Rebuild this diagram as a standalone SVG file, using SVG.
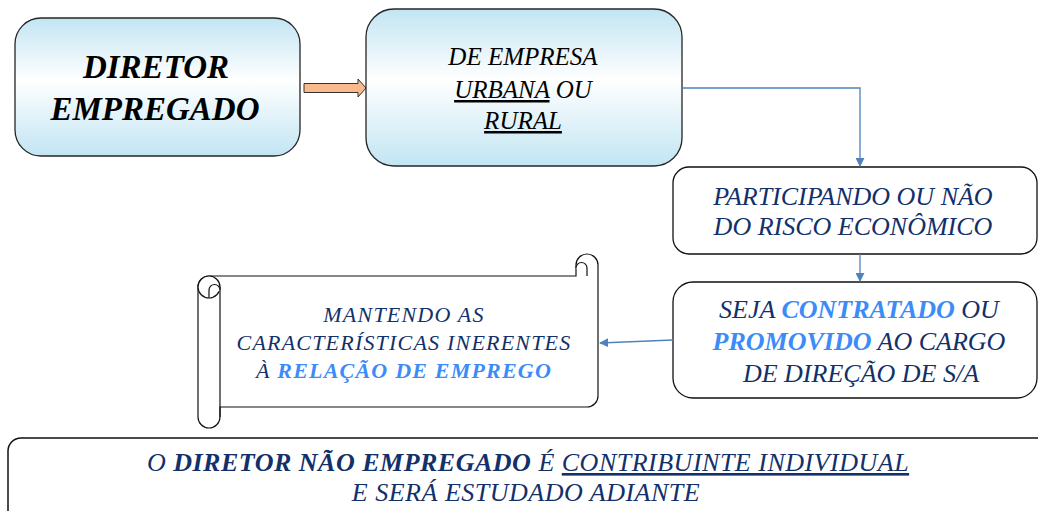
<svg xmlns="http://www.w3.org/2000/svg" width="1038" height="511" viewBox="0 0 1038 511">
  <defs>
    <linearGradient id="blueGrad" x1="0" y1="0" x2="0" y2="1">
      <stop offset="0" stop-color="#c2e5f3"/>
      <stop offset="0.45" stop-color="#ffffff"/>
      <stop offset="1" stop-color="#c2e5f3"/>
    </linearGradient>
    <marker id="arr" viewBox="0 0 10 10" refX="9" refY="5" markerWidth="9" markerHeight="9" markerUnits="userSpaceOnUse" orient="auto">
      <path d="M0,0 L10,5 L0,10 Z" fill="#4f81bd"/>
    </marker>
    <style>
      text { font-family: 'Liberation Serif', 'Times New Roman', Times, 'DejaVu Serif', serif; font-style: italic; text-anchor: middle; }
      .blk { fill: #000000; }
      .navy { fill: #12306a; }
      .hl { fill: #3b8cf6; font-weight: bold; }
      .b { font-weight: bold; }
      .u { text-decoration: underline; }
      .gbox { fill: url(#blueGrad); stroke: #262626; stroke-width: 1.3; }
      .wbox { fill: #ffffff; stroke: #111111; stroke-width: 1.3; }
      .conn { fill: none; stroke: #4f81bd; stroke-width: 1.3; }
      .scroll { fill: #ffffff; stroke: #111111; stroke-width: 1.2; }
    </style>
  </defs>

  <g id="diretor-empregado">
    <rect class="gbox" x="15" y="18" width="285" height="138" rx="26"/>
    <text class="blk b" font-size="33" x="156" y="78">DIRETOR</text>
    <text class="blk b" font-size="33" x="155" y="120">EMPREGADO</text>
  </g>

  <g id="orange-arrow">
    <polygon points="304,83.5 358,83.5 358,79 366,88 358,97 358,92.5 304,92.5" fill="#f9b98a" stroke="#333333" stroke-width="1"/>
  </g>

  <g id="empresa">
    <rect class="gbox" x="366" y="9" width="316" height="157" rx="28"/>
    <text class="blk" font-size="25" x="523" y="65">DE EMPRESA</text>
    <text class="blk" font-size="25" x="523" y="98"><tspan class="u">URBANA</tspan> OU</text>
    <text class="blk" font-size="25" x="523" y="129"><tspan class="u">RURAL</tspan></text>
  </g>

  <g id="risco">
    <rect class="wbox" x="673" y="167" width="364" height="87" rx="16"/>
    <text class="navy" font-size="26" x="853" y="205">PARTICIPANDO OU NÃO</text>
    <text class="navy" font-size="26" x="853" y="235">DO RISCO ECONÔMICO</text>
  </g>

  <g id="contratado">
    <rect class="wbox" x="673" y="282" width="364" height="116" rx="20"/>
    <text class="navy" font-size="26" x="859" y="318">SEJA <tspan class="hl">CONTRATADO</tspan> OU</text>
    <text class="navy" font-size="26" x="859" y="350"><tspan class="hl">PROMOVIDO</tspan> AO CARGO</text>
    <text class="navy" font-size="26" x="861" y="382">DE DIREÇÃO DE S/A</text>
  </g>

  <g id="mantendo">
    <path class="scroll" d="M 220 407 L 587 407 A 11 11 0 0 0 598 396 L 598 265 A 11 11 0 0 0 576 265 L 576 276 L 209 276 A 11 11 0 0 0 198 287 L 198 417 A 11 11 0 0 0 220 417 Z"/>
    <path class="scroll" fill="none" d="M 220 287 L 220 417"/>
    <circle class="scroll" fill="none" cx="209" cy="287" r="11"/>
    <path class="scroll" fill="none" d="M 209 298 L 209 290 A 5.5 5.5 0 0 1 220 290"/>
    <path class="scroll" fill="none" d="M 587 276 L 587 268 A 5.5 5.5 0 0 0 576 268"/>
    <text class="navy" font-size="22" letter-spacing="1.2" x="404" y="322">MANTENDO AS</text>
    <text class="navy" font-size="22" letter-spacing="1.2" x="404" y="350">CARACTERÍSTICAS  INERENTES</text>
    <text class="navy" font-size="22" letter-spacing="1.2" x="404" y="378">À <tspan class="hl">RELAÇÃO DE EMPREGO</tspan></text>
  </g>

  <g id="nao-empregado">
    <rect x="8" y="438" width="1045" height="100" rx="13" fill="#ffffff" stroke="#111111" stroke-width="1.5"/>
    <text class="navy" font-size="26" letter-spacing="0.5" x="528" y="471">O <tspan class="b">DIRETOR NÃO EMPREGADO</tspan> É <tspan class="u">CONTRIBUINTE INDIVIDUAL</tspan></text>
    <text class="navy" font-size="26" letter-spacing="0.5" x="526" y="501">E SERÁ ESTUDADO ADIANTE</text>
  </g>

  <g id="connectors">
    <path class="conn" d="M 682 88 L 860 88 L 860 166" marker-end="url(#arr)"/>
    <path class="conn" d="M 860 254 L 860 281" marker-end="url(#arr)"/>
    <path class="conn" d="M 673 340 L 600 343" marker-end="url(#arr)"/>
  </g>
</svg>
